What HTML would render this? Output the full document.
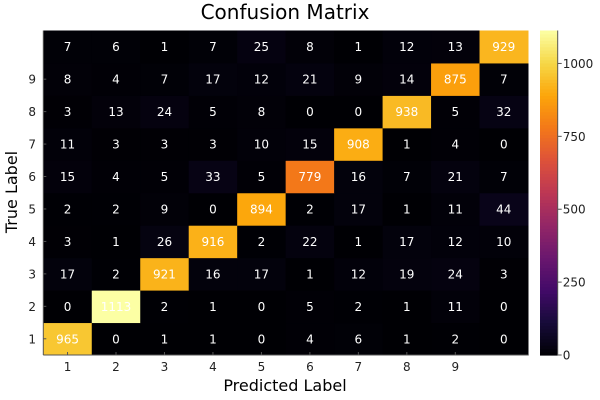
<!DOCTYPE html>
<html><head><meta charset="utf-8"><style>
body{margin:0;background:#fff;}
svg{display:block;font-family:"DejaVu Sans","Liberation Sans",sans-serif;}
</style></head><body>
<svg id="chart" width="600" height="400">
<text x="285" y="19" font-size="20" text-anchor="middle" fill="#000">Confusion Matrix</text>
<text x="285" y="391" font-size="16" text-anchor="middle" fill="#000">Predicted Label</text>
<text x="17" y="192" font-size="16" text-anchor="middle" fill="#000" transform="rotate(-90 17 192)">True Label</text>
<g id="cells"></g>
<g id="axes"></g>
<g id="cbar"></g>
</svg>
<script>
const predictedLabels = ["1","2","3","4","5","6","7","8","9",""];
const trueLabels = ["1","2","3","4","5","6","7","8","9",""];
// rows indexed by true label 1..10 (bottom to top), columns predicted 1..10
const row1 = [965,0,1,1,0,4,6,1,2,0];
const row2 = [0,1113,2,1,0,5,2,1,11,0];
const row3 = [17,2,921,16,17,1,12,19,24,3];
const row4 = [3,1,26,916,2,22,1,17,12,10];
const row5 = [2,2,9,0,894,2,17,1,11,44];
const row6 = [15,4,5,33,5,779,16,7,21,7];
const row7 = [11,3,3,3,10,15,908,1,4,0];
const row8 = [3,13,24,5,8,0,0,938,5,32];
const row9 = [8,4,7,17,12,21,9,14,875,7];
const row10 = [7,6,1,7,25,8,1,12,13,929];
const colorbarTicks = [0,250,500,750,1000];

const matrix=[row1,row2,row3,row4,row5,row6,row7,row8,row9,row10];
const NS="http://www.w3.org/2000/svg";
const L=43.3,R=528,T=30.5,B=355;
const n=10;
const cw=(R-L)/n, ch=(B-T)/n;
let vmax=0;matrix.forEach(r=>r.forEach(v=>{if(v>vmax)vmax=v;}));
const xPos=i=>L+i*cw;
const yPos=j=>B-(j+1)*ch;
const inferno=["#000004","#160b39","#420a68","#6a176e","#932667","#bc3754","#dd513a","#f37819","#fca50a","#f6d746","#fcffa4"];
function hex(h){return [1,3,5].map(i=>parseInt(h.substr(i,2),16));}
function cmap(t){t=Math.max(0,Math.min(1,t));const s=t*10;const i=Math.min(9,Math.floor(s));const f=s-i;
const a=hex(inferno[i]),b=hex(inferno[i+1]);return "rgb("+a.map((v,k)=>Math.round(v+(b[k]-v)*f)).join(",")+")";}
function el(tag,attrs,parent){const e=document.createElementNS(NS,tag);for(const k in attrs)e.setAttribute(k,attrs[k]);parent.appendChild(e);return e;}
const cells=document.getElementById("cells");
matrix.forEach((row,j)=>row.forEach((v,i)=>{
 const r=el("rect",{x:xPos(i),y:yPos(j),width:cw+0.5,height:ch+0.5,fill:cmap(v/vmax)},cells);
 
 
 const t=el("text",{x:xPos(i)+cw/2,y:yPos(j)+ch/2+4.5,"font-size":12,"text-anchor":"middle",fill:"#fff"},cells);
 
 
 t.textContent=v;
}));
const axes=document.getElementById("axes");
el("line",{x1:L,y1:B,x2:R,y2:B,stroke:"#555","stroke-width":1},axes);
el("line",{x1:L,y1:T,x2:L,y2:B,stroke:"#555","stroke-width":1},axes);
predictedLabels.forEach((lab,i)=>{
 if(!lab)return;
 const x=xPos(i)+cw/2;
 el("line",{x1:x,y1:B,x2:x,y2:B-3,stroke:"#555"},axes);
 const t=el("text",{x:x,y:371,"font-size":12,"text-anchor":"middle",fill:"#222"},axes);
 
 
 t.textContent=lab;
});
trueLabels.forEach((lab,j)=>{
 if(!lab)return;
 const y=yPos(j)+ch/2;
 el("line",{x1:L,y1:y,x2:L+3,y2:y,stroke:"#555"},axes);
 const t=el("text",{x:36,y:y+4.5,"font-size":12,"text-anchor":"end",fill:"#222"},axes);
 
 
 t.textContent=lab;
});
const cbar=document.getElementById("cbar");
const CX=540,CW=17.7;
const steps=100;
for(let k=0;k<steps;k++){
 const y0=B-(k+1)*(B-T)/steps;
 const r=el("rect",{x:CX,y:y0,width:CW,height:(B-T)/steps+0.6,fill:cmap((k+0.5)/steps)},cbar);
 
 
}
el("line",{x1:CX+CW,y1:T,x2:CX+CW,y2:B,stroke:"#555"},cbar);
const cy=v=>B-v/vmax*(B-T);
colorbarTicks.forEach(v=>{
 const y=cy(v);
 el("line",{x1:CX+CW,y1:y,x2:CX+CW+4,y2:y,stroke:"#555"},cbar);
 const t=el("text",{x:CX+CW+5,y:y+4.5,"font-size":12,fill:"#222"},cbar);
 
 
 t.textContent=v;
});
</script>
</body></html>
